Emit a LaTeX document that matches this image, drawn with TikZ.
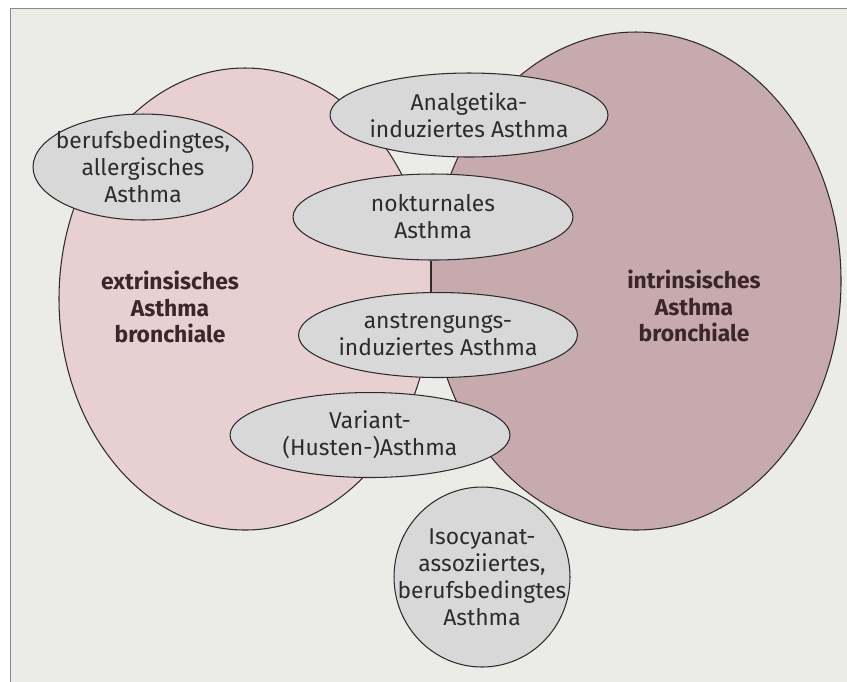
\documentclass[tikz,border=0pt]{standalone}
\usepackage{fontspec}
\setmainfont{Fira Sans}
\usepackage{xcolor}
\usepackage{tikz}
\usetikzlibrary{shapes.geometric}
\definecolor{paper}{HTML}{EBEBE8}
\definecolor{rim}{HTML}{8A8A88}
\definecolor{extr}{HTML}{E8CFD2}
\definecolor{intr}{HTML}{C6AAAE}
\definecolor{subbg}{HTML}{D9D8D8}
\definecolor{ink}{HTML}{2F2B2D}
\definecolor{headc}{HTML}{3A262C}
\tikzset{
  big/.style={draw=ink, line width=0.6pt},
  sub/.style={ellipse, draw=ink, line width=0.6pt, fill=subbg, inner sep=0pt},
  sublab/.style={align=center, text=ink, font=\fontsize{13}{15.4}\selectfont},
  headlab/.style={align=center, text=headc, font=\fontsize{13}{15}\selectfont\bfseries},
}

\begin{document}
\begin{tikzpicture}[x=0.02cm, y=-0.02cm]
  \useasboundingbox (0,0) rectangle (847,681);
  \fill[white] (0,0) rectangle (847,681);
  \begin{scope}
    \clip (0,0) rectangle (847,681);
    \draw[rim, fill=paper, line width=0.5pt] (10,8) rectangle (870,700);
  \end{scope}
  % the two large groups
  \draw[big, fill=extr] (245,299) ellipse [x radius=186, y radius=231];
  \draw[big, fill=intr] (636,281) ellipse [x radius=205, y radius=249];
  \fill[extr] (423,254) rectangle (431,298);
  \fill[intr] (431,254) rectangle (439,298);
  \node[headlab] (extrl) at (170,307) {extrinsisches\\Asthma\\bronchiale};
  \node[headlab] (intrl) at (694,306) {intrinsisches\\Asthma\\bronchiale};
  % the subgroups
  \node[sub, minimum width=4.4cm, minimum height=2.12cm,
    label={[sublab]center:berufsbedingtes,\\allergisches\\Asthma}] (beruf) at (143,167) {};
  \node[sub, minimum width=5.56cm, minimum height=1.68cm,
    label={[sublab]center:Analgetika-\\induziertes Asthma}] (analg) at (469,115) {};
  \node[sub, minimum width=5.6cm, minimum height=1.72cm,
    label={[sublab]center:nokturnales\\Asthma}] (nokt) at (433,217) {};
  \node[sub, minimum width=5.58cm, minimum height=1.7cm,
    label={[sublab]center:anstrengungs-\\induziertes Asthma}] (anstr) at (438,335) {};
  \node[sub, minimum width=5.6cm, minimum height=1.7cm,
    label={[sublab]center:Variant-\\(Husten-)Asthma}] (variant) at (370,435) {};
  \node[sub, minimum width=3.52cm, minimum height=3.6cm,
    label={[sublab]center:Isocyanat-\\assoziiertes,\\berufsbedingtes\\Asthma}] (iso) at (482,577) {};
  \coordinate (divx) at (431,0);
  \draw[ink, line width=0.6pt] (nokt.south -| divx) -- (anstr.north -| divx);
\end{tikzpicture}
\end{document}
